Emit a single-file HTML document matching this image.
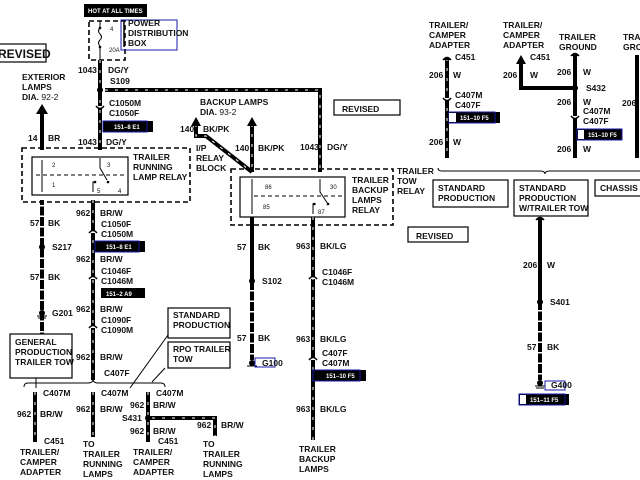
<!DOCTYPE html>
<html><head><meta charset="utf-8"><style>
html,body{margin:0;padding:0;background:#fff;}
svg{display:block;}
text{font-family:"Liberation Sans",Arial,sans-serif;font-weight:bold;font-size:8.5px;fill:#111;}
.s{font-size:6px;font-weight:normal;}
.w{fill:#fff;font-size:6px;}
.big{font-size:12px;}
.wire{stroke:#000;stroke-width:4;fill:none;}
.str{stroke:#fff;stroke-width:1;stroke-dasharray:3 7;fill:none;}
.gap{stroke:#fff;stroke-width:5;stroke-dasharray:1.5 9;fill:none;}
.dash{stroke:#000;stroke-width:1.6;stroke-dasharray:5 3;fill:none;}
.box{stroke:#000;stroke-width:1.2;fill:#fff;}
.blue{stroke:#1a1aa8;stroke-width:1;fill:none;}
.thin{stroke:#000;stroke-width:1;fill:none;}
</style></head><body>
<svg width="640" height="480" viewBox="0 0 640 480" xmlns="http://www.w3.org/2000/svg">
<!-- top HOT -->
<rect x="84" y="4" width="63" height="13" fill="#000"/>
<text x="88" y="13" class="w">HOT AT ALL TIMES</text>
<rect x="89" y="21" width="36" height="39" class="dash"/>
<path d="M100 21 V28 M100 46 V60" class="thin"/>
<path d="M100 28 q-3 3 0 6 q3 3 0 6 q-3 3 0 6" class="thin"/>
<circle cx="100" cy="28" r="1.3"/><circle cx="100" cy="47" r="1.3"/>
<text x="110" y="31" class="s">4</text><text x="109" y="52" class="s">20A</text>
<rect x="121" y="20" width="56" height="30" class="blue"/>
<path d="M124 22 V47" stroke="#000" stroke-width="1.5"/>
<text x="128" y="26">POWER</text><text x="128" y="36">DISTRIBUTION</text><text x="128" y="46">BOX</text>
<!-- revised left -->
<rect x="-5" y="44" width="51" height="18" class="box"/>
<text x="-2" y="58" class="big">REVISED</text>
<!-- main 1043 -->
<path d="M100 60 V150" class="wire"/>
<path d="M100 60 V150" class="str"/>
<circle cx="100" cy="90" r="3"/>
<path d="M105 90 H320 V172" class="wire"/>
<path d="M105 90 H320 V172" class="str"/>
<text x="78" y="73">1043</text><text x="108" y="73">DG/Y</text><text x="110" y="84">S109</text>
<path d="M96 106 q4 5 8 0" stroke="#000" stroke-width="1.5" fill="#fff"/>
<text x="109" y="106">C1050M</text><text x="109" y="116">C1050F</text>
<rect x="103" y="121" width="50" height="11" fill="#000"/><rect x="103" y="121" width="44" height="11" class="blue"/>
<text x="114" y="129" class="w">151–8 E1</text>
<text x="78" y="145">1043</text><text x="106" y="145">DG/Y</text>
<!-- exterior lamps -->
<text x="22" y="80">EXTERIOR</text><text x="22" y="90">LAMPS</text><text x="22" y="100">DIA. <tspan font-weight="normal">92-2</tspan></text>
<path d="M42 150 V112" class="wire"/><path d="M36 114 L42 104 L48 114 Z"/>
<text x="28" y="141">14</text><text x="48" y="141">BR</text>
<!-- relay 1 -->
<rect x="22" y="148" width="168" height="54" class="dash"/>
<rect x="32" y="157" width="96" height="38" class="box" stroke-width="1.6"/>
<path d="M42 160 V192 M100 158 V168 L107 180 M93 192 V182 H96" class="thin"/>
<path d="M36 175 H126" class="thin" stroke-dasharray="4 3"/>
<circle cx="108" cy="182" r="1.3"/><circle cx="95" cy="182" r="1.3"/>
<text x="52" y="167" class="s">2</text><text x="52" y="187" class="s">1</text><text x="107" y="167" class="s">3</text>
<text x="97" y="193" class="s">5</text><text x="118" y="193" class="s">4</text>
<text x="133" y="160">TRAILER</text><text x="133" y="170">RUNNING</text><text x="133" y="180">LAMP RELAY</text>
<text x="196" y="151">I/P</text><text x="196" y="161">RELAY</text><text x="196" y="171">BLOCK</text>
<!-- backup lamps -->
<text x="200" y="105">BACKUP LAMPS</text><text x="200" y="115">DIA. <tspan font-weight="normal">93-2</tspan></text>
<path d="M196 124 V136 H206 L252 172" class="wire"/><path d="M196 124 V136 H206 L252 172" class="str"/>
<path d="M191 126 L196 117 L201 126 Z"/>
<text x="180" y="132">140</text><text x="203" y="132">BK/PK</text>
<path d="M252 124 V172" class="wire"/><path d="M252 124 V172" class="str"/>
<path d="M247 126 L252 117 L257 126 Z"/>
<text x="235" y="151">140</text><text x="258" y="151">BK/PK</text>
<text x="300" y="150">1043</text><text x="327" y="150">DG/Y</text>
<!-- relay 2 -->
<rect x="231" y="169" width="162" height="56" class="dash"/>
<rect x="240" y="177" width="105" height="40" class="box" stroke-width="1.6"/>
<path d="M252 179 V214 M320 179 V192 L328 204 M313 214 V204 H316" class="thin"/>
<path d="M254 196 H343" class="thin" stroke-dasharray="4 3"/>
<circle cx="328" cy="204" r="1.3"/><circle cx="314" cy="204" r="1.3"/>
<text x="265" y="189" class="s">86</text><text x="263" y="209" class="s">85</text><text x="330" y="189" class="s">30</text><text x="318" y="214" class="s">87</text>
<text x="352" y="183">TRAILER</text><text x="352" y="193">BACKUP</text><text x="352" y="203">LAMPS</text><text x="352" y="213">RELAY</text>
<text x="397" y="174">TRAILER</text><text x="397" y="184">TOW</text><text x="397" y="194">RELAY</text>
<rect x="334" y="100" width="66" height="15" class="box"/><text x="342" y="112" font-size="10.5">REVISED</text>
<!-- left 57 BK -->
<path d="M42 200 V338" class="wire"/><path d="M42 205 V338" class="gap"/>
<text x="30" y="226">57</text><text x="48" y="226">BK</text>
<circle cx="42" cy="247" r="3"/><text x="52" y="250">S217</text>
<text x="30" y="280">57</text><text x="48" y="280">BK</text>
<circle cx="42" cy="313" r="3"/><path d="M37 316 H47 M38 318 H46" class="thin"/><text x="52" y="316">G201</text>
<!-- 962 -->
<path d="M93 200 V380" class="wire"/><path d="M93 200 V380" class="str"/>
<text x="76" y="216">962</text><text x="100" y="216">BR/W</text>
<text x="101" y="227">C1050F</text><text x="101" y="237">C1050M</text>
<path d="M89 233 q4 -5 8 0" stroke="#000" stroke-width="1.5" fill="#fff"/>
<rect x="95" y="241" width="50" height="11" fill="#000"/><rect x="95" y="241" width="44" height="11" class="blue"/>
<text x="106" y="249" class="w">151–8 E1</text>
<text x="76" y="262">962</text><text x="100" y="262">BR/W</text>
<text x="101" y="274">C1046F</text><text x="101" y="284">C1046M</text>
<path d="M89 279 q4 -5 8 0" stroke="#000" stroke-width="1.5" fill="#fff"/>
<rect x="101" y="288" width="44" height="10" fill="#000"/><text x="106" y="296" class="w">151–2 A9</text>
<text x="76" y="312">962</text><text x="100" y="312">BR/W</text>
<text x="101" y="323">C1090F</text><text x="101" y="333">C1090M</text>
<path d="M89 328 q4 -5 8 0" stroke="#000" stroke-width="1.5" fill="#fff"/>
<text x="76" y="360">962</text><text x="100" y="360">BR/W</text>
<text x="104" y="376">C407F</text>
<path d="M24 387 q0 -4 4 -4 H88 q5 0 5 -4 q0 4 5 4 H161 q4 0 4 4" class="thin" stroke-width="2"/>
<rect x="10" y="334" width="62" height="44" class="box"/>
<text x="15" y="345">GENERAL</text><text x="15" y="355">PRODUCTION</text><text x="15" y="365">TRAILER TOW</text>
<path d="M36 378 V388" class="thin"/>
<rect x="168" y="308" width="62" height="30" class="box"/>
<text x="173" y="318">STANDARD</text><text x="173" y="328">PRODUCTION</text>
<rect x="168" y="342" width="62" height="26" class="box"/>
<text x="173" y="352">RPO TRAILER</text><text x="173" y="362">TOW</text>
<path d="M168 335 L130 388 M165 368 L152 382" class="thin"/>
<!-- lower branches -->
<path d="M35 392 V442" class="wire"/><path d="M35 392 V442" class="str"/>
<text x="43" y="396">C407M</text><text x="17" y="417">962</text><text x="40" y="417">BR/W</text><text x="44" y="444">C451</text>
<text x="20" y="455">TRAILER/</text><text x="20" y="465">CAMPER</text><text x="20" y="475">ADAPTER</text>
<path d="M93 392 V437" class="wire"/><path d="M93 392 V437" class="str"/>
<text x="101" y="396">C407M</text><text x="76" y="412">962</text><text x="100" y="412">BR/W</text>
<text x="83" y="447">TO</text><text x="83" y="457">TRAILER</text><text x="83" y="467">RUNNING</text><text x="83" y="477">LAMPS</text>
<path d="M148 392 V442" class="wire"/><path d="M148 392 V442" class="str"/>
<path d="M148 418 H215 V436" class="wire"/><path d="M152 418 H215 V436" class="str"/>
<circle cx="148" cy="418" r="3"/>
<text x="156" y="396">C407M</text><text x="130" y="408">962</text><text x="153" y="408">BR/W</text>
<text x="122" y="421">S431</text><text x="130" y="434">962</text><text x="153" y="434">BR/W</text>
<text x="197" y="428">962</text><text x="221" y="428">BR/W</text><text x="158" y="444">C451</text>
<text x="133" y="455">TRAILER/</text><text x="133" y="465">CAMPER</text><text x="133" y="475">ADAPTER</text>
<text x="203" y="447">TO</text><text x="203" y="457">TRAILER</text><text x="203" y="467">RUNNING</text><text x="203" y="477">LAMPS</text>
<!-- 57 BK backup -->
<path d="M252 217 V360" class="wire"/><path d="M252 290 V360" class="gap"/>
<text x="237" y="250">57</text><text x="258" y="250">BK</text>
<circle cx="252" cy="281" r="3"/><text x="262" y="284">S102</text>
<text x="237" y="341">57</text><text x="258" y="341">BK</text>
<circle cx="252" cy="363" r="3"/><path d="M247 366 H257" class="thin"/>
<rect x="255" y="358" width="20" height="9" class="blue"/><text x="262" y="366">G100</text>
<!-- 963 -->
<path d="M313 217 V440" class="wire"/><path d="M313 217 V440" class="str"/>
<text x="296" y="249">963</text><text x="320" y="249">BK/LG</text>
<text x="322" y="275">C1046F</text><text x="322" y="285">C1046M</text>
<path d="M309 279 q4 -5 8 0" stroke="#000" stroke-width="1.5" fill="#fff"/>
<text x="296" y="342">963</text><text x="320" y="342">BK/LG</text>
<text x="322" y="356">C407F</text><text x="322" y="366">C407M</text>
<path d="M309 360 q4 -5 8 0" stroke="#000" stroke-width="1.5" fill="#fff"/>
<rect x="313" y="370" width="53" height="11" fill="#000"/><rect x="313" y="370" width="47" height="11" class="blue"/>
<text x="326" y="378" class="w">151–10 F5</text>
<text x="296" y="412">963</text><text x="320" y="412">BK/LG</text>
<text x="299" y="452">TRAILER</text><text x="299" y="462">BACKUP</text><text x="299" y="472">LAMPS</text>
<!-- right top -->
<text x="429" y="28">TRAILER/</text><text x="429" y="38">CAMPER</text><text x="429" y="48">ADAPTER</text>
<path d="M447 58 V158" class="wire"/><path d="M447 58 V158" class="str"/>
<path d="M443 60 q4 -5 8 0" stroke="#000" stroke-width="1.5"/>
<text x="455" y="60">C451</text><text x="429" y="78">206</text><text x="453" y="78">W</text>
<text x="455" y="98">C407M</text><text x="455" y="108">C407F</text>
<path d="M443 98 q4 5 8 0" stroke="#000" stroke-width="1.5" fill="#fff"/>
<rect x="449" y="112" width="51" height="11" fill="#000"/><rect x="449" y="112" width="46" height="11" class="blue"/>
<rect x="449" y="113" width="7" height="9" fill="#fff"/>
<text x="460" y="120" class="w">151–10 F5</text>
<text x="429" y="145">206</text><text x="453" y="145">W</text>
<text x="503" y="28">TRAILER/</text><text x="503" y="38">CAMPER</text><text x="503" y="48">ADAPTER</text>
<path d="M521 62 V88 H575" class="wire"/><path d="M516 64 L521 55 L526 64 Z"/>
<text x="530" y="60">C451</text><text x="503" y="78">206</text><text x="530" y="78">W</text>
<text x="559" y="40">TRAILER</text><text x="559" y="50">GROUND</text>
<path d="M575 54 V158" class="wire"/>
<path d="M571 56 q4 -5 8 0" stroke="#000" stroke-width="1.5"/>
<circle cx="575" cy="88" r="3"/><text x="586" y="91">S432</text>
<text x="557" y="75">206</text><text x="583" y="75">W</text>
<text x="557" y="105">206</text><text x="583" y="105">W</text>
<text x="583" y="114">C407M</text><text x="583" y="124">C407F</text>
<path d="M571 116 q4 5 8 0" stroke="#000" stroke-width="1.5" fill="#fff"/>
<rect x="577" y="129" width="45" height="11" fill="#000"/><rect x="577" y="129" width="45" height="11" class="blue"/>
<rect x="578" y="130" width="6" height="9" fill="#fff"/>
<text x="588" y="137" class="w">151–10 F5</text>
<text x="557" y="152">206</text><text x="583" y="152">W</text>
<text x="623" y="40">TRAI</text><text x="623" y="50">GRO</text>
<path d="M637 55 V158" class="wire"/><text x="622" y="106">206</text>
<path d="M438 168 q0 3 4 3 H540 q5 0 5 3 q0 -3 5 -3 H640" class="thin" stroke-width="2"/>
<rect x="433" y="180" width="75" height="27" class="box"/>
<text x="438" y="191">STANDARD</text><text x="438" y="201">PRODUCTION</text>
<rect x="514" y="180" width="74" height="36" class="box"/>
<text x="519" y="191">STANDARD</text><text x="519" y="201">PRODUCTION</text><text x="519" y="211">W/TRAILER TOW</text>
<rect x="595" y="180" width="50" height="16" class="box"/><text x="600" y="191">CHASSIS G</text>
<rect x="408" y="227" width="60" height="15" class="box"/><text x="416" y="239" font-size="10.5">REVISED</text>
<path d="M540 218 V380" class="wire"/><path d="M540 310 V380" class="gap"/>
<path d="M536 220 q4 -5 8 0" stroke="#000" stroke-width="1.5"/>
<text x="523" y="268">206</text><text x="547" y="268">W</text>
<circle cx="540" cy="302" r="3"/><text x="550" y="305">S401</text>
<text x="527" y="350">57</text><text x="547" y="350">BK</text>
<circle cx="540" cy="383" r="3"/><path d="M535 386 H545 M536 388 H544" class="thin"/>
<rect x="545" y="381" width="20" height="9" class="blue"/><text x="551" y="388">G400</text>
<rect x="519" y="394" width="50" height="11" fill="#000"/><rect x="519" y="394" width="46" height="11" class="blue"/>
<rect x="520" y="395" width="6" height="9" fill="#fff"/>
<text x="530" y="402" class="w">151–11 F5</text>
</svg>
</body></html>
